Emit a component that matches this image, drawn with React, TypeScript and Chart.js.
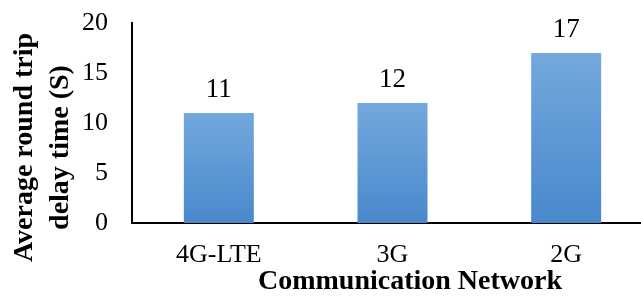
import React, { useEffect, useRef } from "react";
import { Chart, registerables } from "chart.js";

Chart.register(...registerables);

const categories = ["4G-LTE", "3G", "2G"];
const delayValues = [11, 12, 17];
const yTicks = [0, 5, 10, 15, 20];
const yTitleLines = ["Average round trip", "delay time (S)"];
const xTitle = "Communication Network";

const FONT = "'Liberation Serif', 'Times New Roman', serif";

const overlayPlugin = {
  id: "overlay",
  afterDraw(chart: any) {
    const ctx = chart.ctx;
    const meta = chart.getDatasetMeta(0);
    ctx.save();
    ctx.fillStyle = "#000";
    ctx.font = `27px ${FONT}`;
    ctx.textAlign = "center";
    ctx.textBaseline = "alphabetic";
    meta.data.forEach((bar: any, i: number) => {
      ctx.fillText(String(delayValues[i]), bar.x, bar.y - 16);
    });
    ctx.font = `bold 28px ${FONT}`;
    ctx.fillText(xTitle, 410, 289);
    ctx.translate(0, 147.5);
    ctx.rotate(-Math.PI / 2);
    ctx.textBaseline = "middle";
    ctx.fillText(yTitleLines[0], 0, 25);
    ctx.fillText(yTitleLines[1], 0, 61);
    ctx.restore();
  },
};

export default function App() {
  const ref = useRef<HTMLCanvasElement>(null);
  useEffect(() => {
    if (!ref.current) return;
    const chart = new Chart(ref.current, {
      type: "bar",
      data: {
        labels: categories,
        datasets: [
          {
            data: delayValues,
            backgroundColor: (c: any) => {
              const ch = c.chart;
              const ys = ch.scales && ch.scales.y;
              if (!ys || typeof c.raw !== "number") return "#5e9ddb";
              const top = ys.getPixelForValue(c.raw);
              const bottom = ys.getPixelForValue(0);
              if (!isFinite(top) || !isFinite(bottom) || top === bottom) return "#5e9ddb";
              const g = ch.ctx.createLinearGradient(0, top, 0, bottom);
              g.addColorStop(0, "#74a8dd");
              g.addColorStop(1, "#4889cc");
              return g;
            },
            borderWidth: 0,
            barPercentage: 0.403,
            categoryPercentage: 1,
          },
        ],
      },
      options: {
        responsive: false,
        animation: false,
        layout: { padding: { left: 0, right: 7, top: 23, bottom: 0 } },
        plugins: {
          legend: { display: false },
          tooltip: { enabled: false },
          title: { display: false },
        },
        scales: {
          x: {
            grid: { display: false, drawTicks: false },
            border: { display: true, color: "#000", width: 2 },
            ticks: {
              color: "#000",
              font: { family: FONT, size: 26 },
              padding: 17,
              maxRotation: 0,
            },
            afterFit: (s: any) => {
              s.height = 73;
              s.paddingLeft = 0;
              s.paddingRight = 0;
            },
          },
          y: {
            min: 0,
            max: 20,
            grid: { display: false, drawTicks: false },
            border: { display: true, color: "#000", width: 2 },
            afterBuildTicks: (s: any) => {
              s.ticks = yTicks.map((v) => ({ value: v }));
            },
            ticks: {
              color: "#000",
              font: { family: FONT, size: 26 },
              padding: 24,
            },
            afterFit: (s: any) => {
              s.width = 132;
              s.paddingTop = 0;
              s.paddingBottom = 0;
            },
          },
        },
      },
      plugins: [overlayPlugin],
    });
    return () => chart.destroy();
  }, []);
  return (
    <div
      style={{
        position: "fixed",
        left: 0,
        top: 0,
        width: 641,
        height: 296,
        overflow: "hidden",
        background: "#fff",
      }}
    >
      <canvas ref={ref} width={660} height={296} style={{ width: 660, height: 296 }} />
    </div>
  );
}
